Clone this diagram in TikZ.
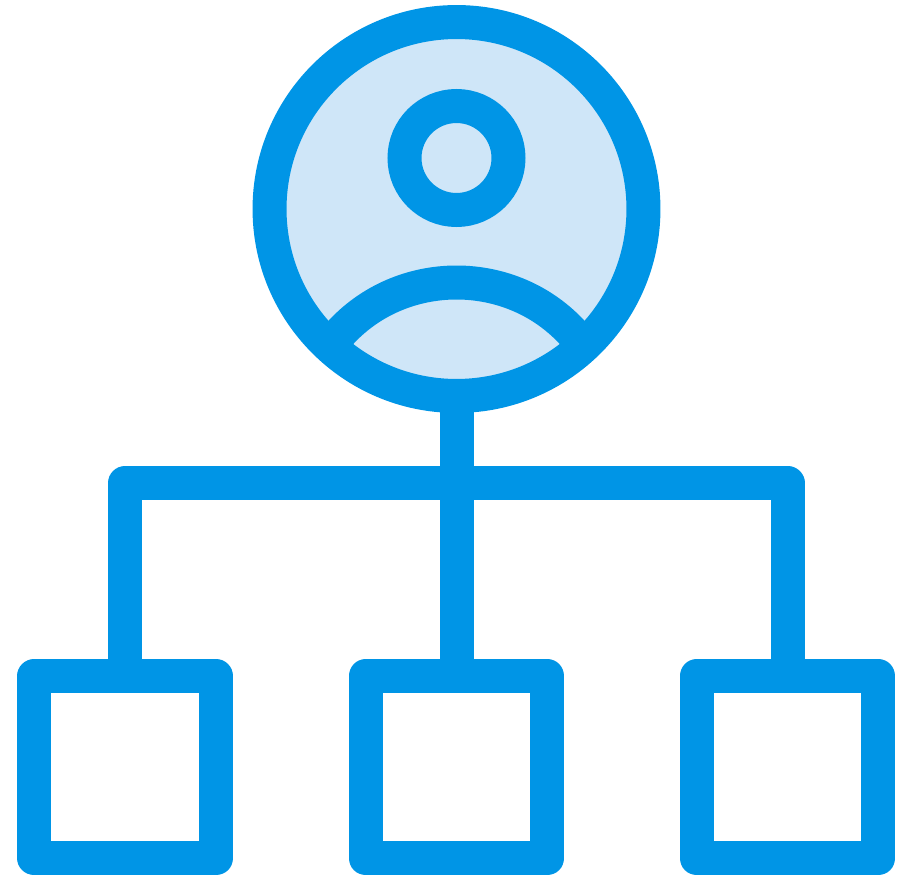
\documentclass[tikz,border=0pt]{standalone}
\definecolor{iconblue}{HTML}{0095E6}
\definecolor{iconpale}{HTML}{CFE6F8}
\tikzset{
	box/.style={draw=iconblue,line width=0.68cm,fill=white,line join=round,minimum size=3.64cm,inner sep=0pt,outer sep=0pt},
	wire/.style={draw=iconblue,line width=0.68cm},
}
\begin{document}
\begin{tikzpicture}[x=0.02cm,y=-0.02cm]
				\useasboundingbox (0,0) rectangle (910,876);
				\node[circle,draw=iconblue,line width=0.68cm,fill=iconpale,minimum size=7.48cm,inner sep=0pt,outer sep=0pt] (face) at (456.5,209) {};
				\node[circle,draw=iconblue,line width=0.68cm,fill=iconpale,minimum size=2.08cm,inner sep=0pt,outer sep=0pt] (head) at (456.5,158) {};
				%--
				\coordinate (shoulderl) at (338.5,335);
				\coordinate (shoulderr) at (574.5,335);
				\draw[wire] (shoulderl) .. controls (400.5,265) and (512.5,265) .. (shoulderr);
				%--
				\node[box] (lefta) at (125.2,767.2) {};
				\node[box] (midb) at (456.5,767.2) {};
				\node[box] (rightc) at (787.5,767.2) {};
				%--
				\coordinate (hub) at (456.5,483);
				\draw[wire] (face.south) -- (midb.north);
				\draw[wire,line join=round] (lefta.north) |- (hub) -| (rightc.north);
\end{tikzpicture}
\end{document}
